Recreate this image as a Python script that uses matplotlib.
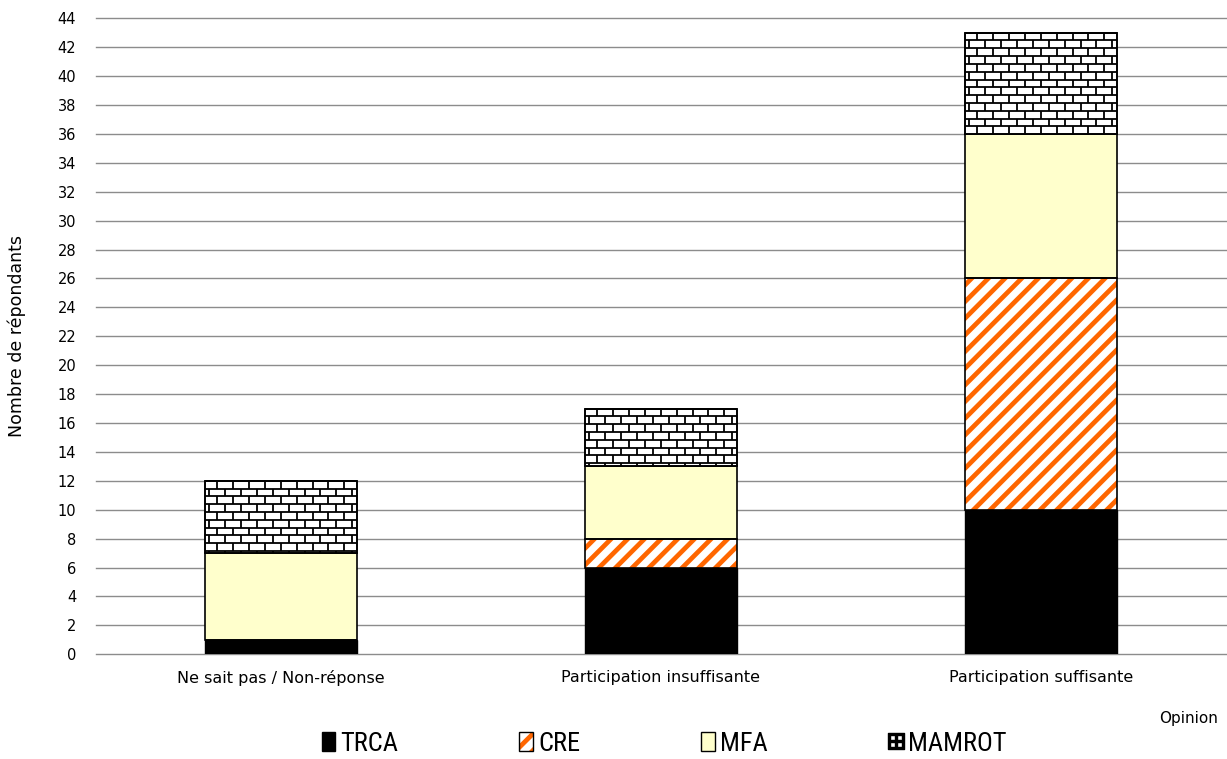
import numpy as np
import matplotlib
matplotlib.use("Agg")
import matplotlib.pyplot as plt
from matplotlib import font_manager
from matplotlib.collections import LineCollection
from matplotlib.patches import Rectangle
from matplotlib.lines import Line2D

# -----------------------------
# Data: respondents per opinion, stacked by organisation
# -----------------------------
categories = ["Ne sait pas / Non-réponse", "Participation insuffisante", "Participation suffisante"]
trca   = [1, 6, 10]
cre    = [0, 2, 16]
mfa    = [6, 5, 10]
mamrot = [5, 4, 7]
series_names = ["TRCA", "CRE", "MFA", "MAMROT"]
y_ticks = list(range(0, 46, 2))

plt.rcParams["font.family"] = ["DejaVu Sans"]
plt.rcParams["hatch.linewidth"] = 3.4

# narrow face for the legend if one is installed
installed = {f.name for f in font_manager.fontManager.ttflist}
legend_font = "DejaVu Sans"
for name in ["Liberation Sans Narrow", "DejaVu Sans Condensed", "Roboto Condensed"]:
    if name in installed:
        legend_font = name
        break

orange = "#FF6600"
cream = "#FFFFCC"
width = 0.4

fig = plt.figure(figsize=(12.27, 7.59), dpi=100)
ax = fig.add_axes([0.078, 0.138, 0.922, 0.838])

x = np.arange(len(categories))
b1 = np.array(trca)
b2 = b1 + np.array(cre)
b3 = b2 + np.array(mfa)

ax.bar(x, trca, width, color="black", edgecolor="black", linewidth=1, zorder=3)
# orange diagonal stripes, then a black outline on top
ax.bar(x, cre, width, bottom=b1, color="white", edgecolor=orange, hatch="//", linewidth=0, zorder=3)
ax.bar(x, cre, width, bottom=b1, color="none", edgecolor="black", linewidth=1.2, zorder=4)
ax.bar(x, mfa, width, bottom=b2, color=cream, edgecolor="black", linewidth=1.2, zorder=3)
top = ax.bar(x, mamrot, width, bottom=b3, color="white", edgecolor="black", linewidth=1.2, zorder=3)

# brick texture for the MAMROT segments, cut to each bar's box
brick_w = 0.042
brick_h = 0.54
for rect in top:
    x0, y0 = rect.get_x(), rect.get_y()
    w, h = rect.get_width(), rect.get_height()
    segs = []
    yb = y0 + h
    r = 0
    while yb > y0:
        segs.append([(x0, yb), (x0 + w, yb)])
        ylo = max(yb - brick_h, y0)
        off = brick_w * 0.75 if r % 2 == 0 else brick_w * 0.25
        for xv in np.arange(x0 + off, x0 + w, brick_w):
            segs.append([(xv, yb), (xv, ylo)])
        yb -= brick_h
        r += 1
    ax.add_collection(LineCollection(segs, colors="black", linewidths=1.3, zorder=3.5))
    ax.add_patch(Rectangle((x0, y0), w, h, facecolor="none", edgecolor="black", linewidth=1.2, zorder=4))

ax.set_xlim(-0.487, 2.49)
ax.set_ylim(0, 44)
ax.set_yticks(y_ticks)
ax.set_xticks(x)
ax.set_xticklabels(categories, fontsize=11.5)
ax.tick_params(axis="y", labelsize=10.5, length=0, pad=14)
ax.tick_params(axis="x", length=0, pad=11)
ax.yaxis.grid(True, color="#8c8c8c", linewidth=1)
for gl in ax.get_ygridlines():
    gl.set_clip_on(False)
ax.set_axisbelow(True)
for s in ax.spines.values():
    s.set_visible(False)

ax.set_ylabel("Nombre de répondants", fontsize=12.5)
ax.yaxis.set_label_coords(-0.062, 0.5)
fig.text(0.993, 1 - 718 / 759, "Opinion", fontsize=11, ha="right", va="center")

handles = [
    Rectangle((0, 0), 1, 1, facecolor="black", edgecolor="black"),
    (Rectangle((0, 0), 1, 1, facecolor="white", edgecolor=orange, hatch="//", linewidth=0),
     Rectangle((0, 0), 1, 1, facecolor="none", edgecolor="black", linewidth=1)),
    Rectangle((0, 0), 1, 1, facecolor=cream, edgecolor="black", linewidth=1),
    Line2D([], [], marker=r"$\boxplus$", linestyle="none", color="black", markersize=12),
]
fig.legend(handles, series_names, loc="center", bbox_to_anchor=(0.541, 0.02), ncol=4,
           frameon=False, prop={"family": legend_font, "size": 19},
           handlelength=0.5, handleheight=0.75, handletextpad=0.2, columnspacing=4.6)

fig.savefig("out.png", dpi=100)
